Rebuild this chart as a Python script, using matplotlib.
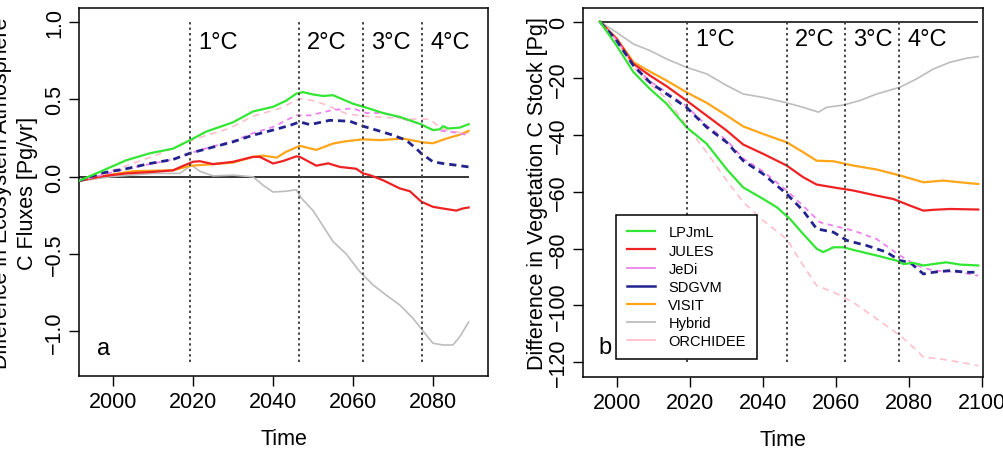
import numpy as np
import matplotlib.pyplot as plt
from matplotlib.lines import Line2D

plt.rcParams['font.family'] = ['Liberation Sans', 'DejaVu Sans']

# model names, colours and styles
models = ['LPJmL', 'JULES', 'JeDi', 'SDGVM', 'VISIT', 'Hybrid', 'ORCHIDEE']
colors = ['#33e633', '#ee2222', '#ee82ee', '#23238e', '#ffa51a', '#bdbdbd', '#ffc0cb']

# warming levels (year where 1, 2, 3, 4 degC are reached)
warming_years = [2019.3, 2046.5, 2062.4, 2077.2]
warming_labels = ['1°C', '2°C', '3°C', '4°C']

# ---- panel a: ecosystem-atmosphere C fluxes [Pg/yr] ----
lpjml_a_x = [1991.3, 1996.7, 2003.3, 2009.2, 2015.0, 2019.2, 2023.3, 2030.0, 2035.0, 2040.0, 2043.3, 2045.8,
             2047.5, 2050.0, 2052.5, 2055.0, 2060.0, 2063.3, 2067.5, 2071.7, 2076.7, 2080.0, 2081.7, 2082.5,
             2083.8, 2086.7, 2088.9]
lpjml_a_y = [-0.03, 0.03, 0.105, 0.15, 0.18, 0.234, 0.29, 0.35, 0.42, 0.45, 0.49, 0.535,
             0.545, 0.53, 0.52, 0.525, 0.47, 0.445, 0.41, 0.385, 0.34, 0.30, 0.305, 0.325,
             0.31, 0.316, 0.338]

jules_a_x = [1991.3, 1996.7, 2003.3, 2010.0, 2015.0, 2017.9, 2020.0, 2021.7, 2025.0, 2030.0, 2035.0, 2036.7,
             2040.0, 2042.5, 2045.8, 2046.7, 2050.8, 2053.8, 2056.7, 2060.8, 2062.5, 2064.2, 2067.5, 2071.7,
             2074.2, 2077.1, 2080.0, 2083.3, 2085.8, 2087.5, 2088.9]
jules_a_y = [-0.03, 0.0, 0.02, 0.03, 0.04, 0.073, 0.095, 0.099, 0.08, 0.095, 0.127, 0.127,
             0.084, 0.10, 0.13, 0.127, 0.07, 0.085, 0.062, 0.05, 0.02, 0.009, -0.024, -0.077,
             -0.095, -0.163, -0.196, -0.21, -0.22, -0.206, -0.20]

jedi_a_x = [1991.3, 2003.3, 2015.0, 2019.2, 2025.0, 2030.0, 2035.0, 2040.0, 2045.8, 2049.2, 2055.0, 2060.0,
            2063.3, 2067.5, 2071.7, 2076.7, 2080.0, 2084.2, 2088.9]
jedi_a_y = [-0.03, 0.05, 0.11, 0.15, 0.195, 0.228, 0.28, 0.32, 0.395, 0.395, 0.43, 0.44,
            0.41, 0.41, 0.38, 0.34, 0.30, 0.29, 0.267]

sdgvm_a_x = [1991.3, 1996.7, 2003.3, 2009.2, 2015.0, 2019.2, 2025.0, 2030.0, 2035.0, 2040.0, 2044.2, 2046.7,
             2049.2, 2054.2, 2059.2, 2062.5, 2065.8, 2070.0, 2073.3, 2075.8, 2077.1, 2080.0, 2082.5, 2085.8,
             2088.9]
sdgvm_a_y = [-0.03, 0.02, 0.05, 0.084, 0.11, 0.15, 0.19, 0.224, 0.267, 0.30, 0.33, 0.353,
             0.335, 0.363, 0.357, 0.325, 0.30, 0.267, 0.234, 0.18, 0.148, 0.095, 0.084, 0.073,
             0.062]

visit_a_x = [1991.3, 1996.7, 2005.0, 2015.0, 2019.2, 2025.0, 2030.0, 2035.0, 2037.5, 2040.9, 2043.3, 2046.7,
             2050.8, 2055.0, 2058.3, 2062.5, 2066.7, 2072.5, 2077.5, 2080.0, 2083.3, 2086.7, 2088.9]
visit_a_y = [-0.03, 0.0, 0.035, 0.04, 0.069, 0.08, 0.09, 0.127, 0.135, 0.122, 0.16, 0.198,
             0.172, 0.213, 0.228, 0.24, 0.235, 0.245, 0.22, 0.215, 0.245, 0.27, 0.295]

hybrid_a_x = [1991.3, 2000.0, 2010.0, 2016.7, 2019.6, 2021.7, 2025.0, 2030.0, 2035.0, 2037.5, 2040.0, 2043.3,
              2045.8, 2047.1, 2050.0, 2052.0, 2055.0, 2058.3, 2061.7, 2065.0, 2068.3, 2071.7, 2075.0, 2078.3,
              2080.0, 2082.5, 2085.0, 2086.7, 2088.9]
hybrid_a_y = [-0.03, 0.0, 0.02, 0.02, 0.073, 0.034, 0.004, 0.009, -0.002, -0.056, -0.10, -0.095,
              -0.085, -0.14, -0.22, -0.30, -0.42, -0.50, -0.615, -0.70, -0.766, -0.83, -0.916, -1.024,
              -1.077, -1.088, -1.088, -1.034, -0.94]

orchidee_a_x = [1991.3, 2000.0, 2010.0, 2020.8, 2029.0, 2035.0, 2041.7, 2046.7, 2050.0, 2052.5, 2058.3, 2062.5,
                2069.2, 2075.0, 2079.2, 2082.0, 2085.0, 2088.9]
orchidee_a_y = [-0.03, 0.04, 0.13, 0.245, 0.31, 0.39, 0.44, 0.503, 0.49, 0.47, 0.406, 0.39,
                0.38, 0.37, 0.37, 0.31, 0.29, 0.28]

# ---- panel b: vegetation C stock [Pg] ----
lpjml_b_x = [1995.4, 2000.0, 2004.6, 2009.1, 2013.7, 2019.1, 2024.6, 2030.1, 2034.6, 2040.1, 2043.8, 2047.4,
             2051.0, 2054.7, 2056.5, 2059.3, 2062.0, 2065.6, 2071.1, 2076.6, 2078.4, 2081.1, 2083.9, 2088.4,
             2090.2, 2093.9, 2098.9]
lpjml_b_y = [0, -8.5, -17.8, -23.7, -29.0, -37.2, -43.0, -52.0, -58.4, -62.5, -65.4, -69.5,
             -74.8, -80.0, -81.2, -79.5, -79.5, -80.7, -82.4, -84.2, -85.4, -85.0, -85.9, -85.1,
             -84.8, -85.6, -85.9]

jules_b_x = [1995.4, 2000.0, 2004.6, 2009.1, 2013.7, 2019.1, 2024.6, 2030.1, 2034.6, 2040.1, 2046.5, 2051.0,
             2054.7, 2059.3, 2064.7, 2071.1, 2075.7, 2080.2, 2083.9, 2086.6, 2091.2, 2098.9]
jules_b_y = [0, -6.1, -14.9, -19.0, -22.8, -27.8, -33.1, -38.4, -43.3, -46.6, -50.7, -54.8,
             -57.4, -58.4, -59.5, -61.3, -62.5, -64.8, -66.6, -66.3, -66.0, -66.2]

jedi_b_x = [1995.4, 2000.0, 2004.6, 2009.1, 2013.7, 2019.1, 2024.6, 2030.1, 2034.6, 2040.1, 2046.5, 2051.0,
            2055.6, 2059.3, 2064.7, 2071.1, 2077.5, 2082.0, 2086.6, 2093.9, 2098.9]
jedi_b_y = [0, -6.5, -15.2, -21.0, -25.0, -29.8, -36.6, -41.8, -48.2, -52.8, -59.5, -64.9,
            -70.7, -71.9, -73.6, -76.6, -82.4, -85.9, -87.7, -88.3, -89.5]

sdgvm_b_x = [1995.4, 2000.0, 2004.6, 2009.1, 2013.7, 2019.1, 2024.6, 2030.1, 2034.6, 2040.1, 2046.5, 2051.0,
             2054.7, 2059.3, 2063.0, 2068.4, 2073.8, 2077.5, 2080.2, 2083.9, 2086.6, 2091.2, 2095.7, 2098.9]
sdgvm_b_y = [0, -6.7, -15.5, -21.4, -25.5, -30.2, -37.2, -42.5, -49.0, -53.7, -60.7, -66.6,
             -73.0, -74.2, -77.1, -78.9, -81.2, -84.2, -84.8, -88.9, -88.3, -87.7, -88.3, -88.3]

visit_b_x = [1995.4, 2000.0, 2004.6, 2009.1, 2013.7, 2019.1, 2024.6, 2030.1, 2034.6, 2040.1, 2046.5, 2051.0,
             2054.7, 2059.3, 2064.7, 2071.1, 2077.5, 2083.9, 2089.3, 2093.9, 2098.9]
visit_b_y = [0, -5.9, -14.3, -17.6, -20.8, -24.9, -28.6, -33.1, -36.9, -39.6, -42.5, -46.0,
             -49.0, -49.2, -50.7, -52.1, -54.2, -56.6, -56.0, -56.6, -57.2]

hybrid_b_x = [1995.4, 2000.0, 2004.6, 2009.1, 2013.7, 2019.1, 2024.6, 2030.1, 2034.6, 2040.1, 2046.5, 2051.0,
              2055.2, 2057.4, 2062.0, 2066.5, 2071.1, 2077.5, 2082.0, 2086.6, 2091.2, 2095.7, 2098.9]
hybrid_b_y = [0, -3.8, -7.9, -10.2, -13.2, -16.1, -18.4, -22.5, -25.5, -26.7, -28.6, -30.2,
              -31.9, -30.2, -29.4, -27.8, -25.5, -23.1, -20.2, -16.7, -14.3, -12.9, -12.3]

orchidee_b_x = [1995.4, 2000.0, 2004.6, 2009.1, 2013.7, 2019.1, 2024.6, 2030.1, 2034.6, 2040.1, 2046.5, 2051.0,
                2054.7, 2059.3, 2064.7, 2071.1, 2077.5, 2081.1, 2083.9, 2088.4, 2093.9, 2098.9]
orchidee_b_y = [0, -7.3, -16.1, -22.0, -27.2, -36.6, -46.0, -56.0, -63.6, -70.1, -76.6, -85.9,
                -93.0, -95.3, -98.9, -104.7, -110.6, -114.7, -118.2, -118.8, -120.0, -121.2]

series_a = [(lpjml_a_x, lpjml_a_y), (jules_a_x, jules_a_y), (jedi_a_x, jedi_a_y), (sdgvm_a_x, sdgvm_a_y),
            (visit_a_x, visit_a_y), (hybrid_a_x, hybrid_a_y), (orchidee_a_x, orchidee_a_y)]
series_b = [(lpjml_b_x, lpjml_b_y), (jules_b_x, jules_b_y), (jedi_b_x, jedi_b_y), (sdgvm_b_x, sdgvm_b_y),
            (visit_b_x, visit_b_y), (hybrid_b_x, hybrid_b_y), (orchidee_b_x, orchidee_b_y)]

# line styles per model
styles = [
    dict(lw=1.6, ls='-'),
    dict(lw=1.6, ls='-'),
    dict(lw=1.3, ls=(0, (3, 2.5))),
    dict(lw=2.0, ls=(0, (2.6, 1.8))),
    dict(lw=1.6, ls='-'),
    dict(lw=1.2, ls='-'),
    dict(lw=1.2, ls=(0, (4, 3))),
]
draw_order = [5, 6, 4, 1, 2, 3, 0]


def draw_panel(ax, series, vlim, label_y, letter_pos, letter):
    xs_all = np.concatenate([np.array(s[0]) for s in series])
    ax.hlines(0, xs_all.min(), xs_all.max(), color='black', lw=1.1, zorder=1)
    for i in draw_order:
        x, y = series[i]
        ax.plot(x, y, color=colors[i], zorder=3, **styles[i])
    ax.vlines(warming_years, vlim[0], vlim[1], color='#444444', lw=1.4,
              linestyles=(0, (1.2, 1.6)), zorder=4)
    for yr, lab in zip(warming_years, warming_labels):
        ax.annotate(lab, (yr, label_y), xytext=(6, 0), textcoords='offset points',
                    ha='left', va='center', fontsize=17)
    ax.text(letter_pos[0], letter_pos[1], letter, fontsize=17, ha='left', va='center')
    for sp in ax.spines.values():
        sp.set_linewidth(1.1)
    ax.tick_params(direction='out', length=7, width=1, labelsize=15.5, pad=4)
    ax.tick_params(axis='y', labelrotation=90, pad=3)
    for t in ax.get_yticklabels():
        t.set_va('center')
    ax.set_xlabel('Time', fontsize=15.5, labelpad=11)


fig = plt.figure(figsize=(10.04, 4.52), dpi=100)
ax1 = fig.add_axes([0.0787, 0.166, 0.4074, 0.814])
ax2 = fig.add_axes([0.5807, 0.1637, 0.3984, 0.8164])

ax1.set_xlim(1991.5, 2093.75)
ax1.set_ylim(-1.288, 1.088)
ax1.set_xticks([2000, 2020, 2040, 2060, 2080])
ax1.set_yticks([-1.0, -0.5, 0.0, 0.5, 1.0])
ax1.set_yticklabels(['\u22121.0', '\u22120.5', '0.0', '0.5', '1.0'])
draw_panel(ax1, series_a, (-1.2, 1.0), 0.87, (1995.9, -1.11), 'a')
ax1.set_ylabel('Difference in Ecosystem Atmosphere\nC Fluxes [Pg/yr]', fontsize=15.5, linespacing=1.35)
ax1.yaxis.set_label_coords(-0.1, 0.5)

ax2.set_xlim(1990.8, 2100.2)
ax2.set_ylim(-125.2, 4.8)
ax2.set_xticks([2000, 2020, 2040, 2060, 2080, 2100])
ax2.set_yticks([-120, -100, -80, -60, -40, -20, 0])
ax2.set_yticklabels(['\u2212120', '\u2212100', '\u221280', '\u221260', '\u221240', '\u221220', '0'])
draw_panel(ax2, series_b, (-120, 0), -6.1, (1994.9, -114.6), 'b')
ax2.set_ylabel('Difference in Vegetation C Stock [Pg]', fontsize=15.5)
ax2.yaxis.set_label_coords(-0.088, 0.5)

handles = [Line2D([], [], color=c, lw=1.6 if i in (0, 1, 4) else 1.3 if i != 3 else 1.8)
           for i, c in enumerate(colors)]
leg = ax2.legend(handles, models, loc='lower left', bbox_to_anchor=(0.082, 0.049), fontsize=10.5,
                 frameon=True, fancybox=False, edgecolor='black', framealpha=1, handlelength=1.95,
                 handletextpad=0.9, labelspacing=0.28, borderpad=0.75, borderaxespad=0)
leg.get_frame().set_linewidth(1.1)
leg.set_zorder(5)

fig.savefig('out.png', dpi=100)
